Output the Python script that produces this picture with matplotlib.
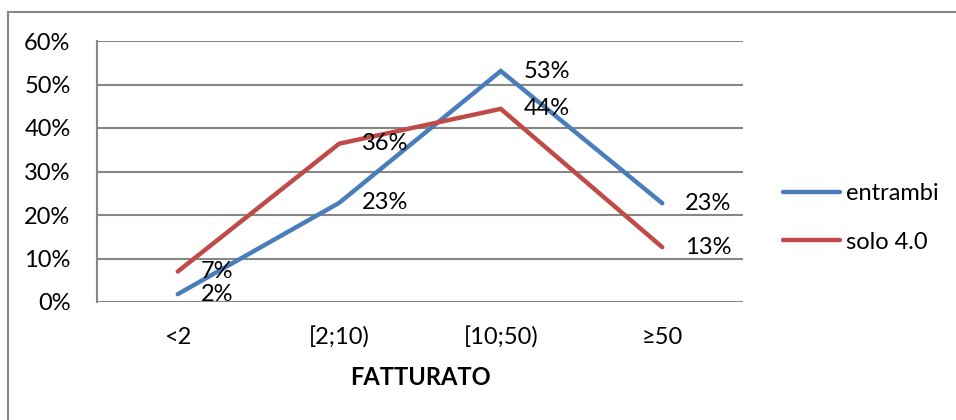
import numpy as np
import matplotlib
matplotlib.use("Agg")
from matplotlib import pyplot as plt
from matplotlib.patches import Rectangle
from matplotlib.ticker import PercentFormatter

# fatturato classes and share of firms per group
categories = ["<2", "[2;10)", "[10;50)", "\u226550"]
entrambi = [0.018, 0.228, 0.531, 0.227]
solo_40 = [0.070, 0.364, 0.444, 0.126]
y_ticks = [0.0, 0.1, 0.2, 0.3, 0.4, 0.5, 0.6]

BLUE = "#4a7ebb"
RED = "#be4b48"
GRID = "#878787"

plt.rcParams["font.family"] = ["Lato", "DejaVu Sans"]
FS = 17

W, H = 956, 420
fig = plt.figure(figsize=(W / 100, H / 100), dpi=100)

# outer chart frame (right and bottom edges fall outside the canvas)
fig.patches.append(Rectangle((8 / W, -0.1), 1.2, 1.1 - 12 / H,
                             transform=fig.transFigure, fill=False,
                             edgecolor=GRID, linewidth=1.5))

ax = fig.add_axes([97 / W, (H - 302) / H, 646 / W, 261 / H])
x = np.arange(len(categories))

ax.plot(x, entrambi, color=BLUE, lw=3.2, solid_capstyle="round",
        solid_joinstyle="miter", label="entrambi", zorder=3)
ax.plot(x, solo_40, color=RED, lw=3.2, solid_capstyle="round",
        solid_joinstyle="miter", label="solo 4.0", zorder=3)

for series in (entrambi, solo_40):
    for xi, v in zip(x, series):
        ax.annotate(f"{v:.0%}", (xi, v), xytext=(23, 0),
                    textcoords="offset pixels", ha="left", va="center",
                    fontsize=FS, color="black", zorder=4)

ax.set_xlim(-0.5, len(categories) - 0.5)
ax.set_ylim(0, 0.6)
ax.set_yticks(y_ticks)
ax.yaxis.set_major_formatter(PercentFormatter(1.0, decimals=0))
ax.set_xticks(x)
ax.set_xticklabels(categories)
ax.tick_params(axis="y", length=0, pad=19, labelsize=FS)
ax.tick_params(axis="x", length=0, pad=18, labelsize=FS)
ax.grid(axis="y", color=GRID, lw=1.5)
ax.set_axisbelow(True)
for side in ("top", "right", "bottom"):
    ax.spines[side].set_visible(False)
ax.spines["left"].set_color(GRID)
ax.spines["left"].set_linewidth(1.5)

ax.set_xlabel("FATTURATO", fontsize=FS, fontweight="bold", labelpad=12)

fig.legend(loc="center left", bbox_to_anchor=(783 / W, 1 - 218 / H),
           frameon=False, fontsize=FS, handlelength=2.4, handletextpad=0.25,
           labelspacing=1.15, borderpad=0, borderaxespad=0)

fig.savefig("out.png", dpi=100)
